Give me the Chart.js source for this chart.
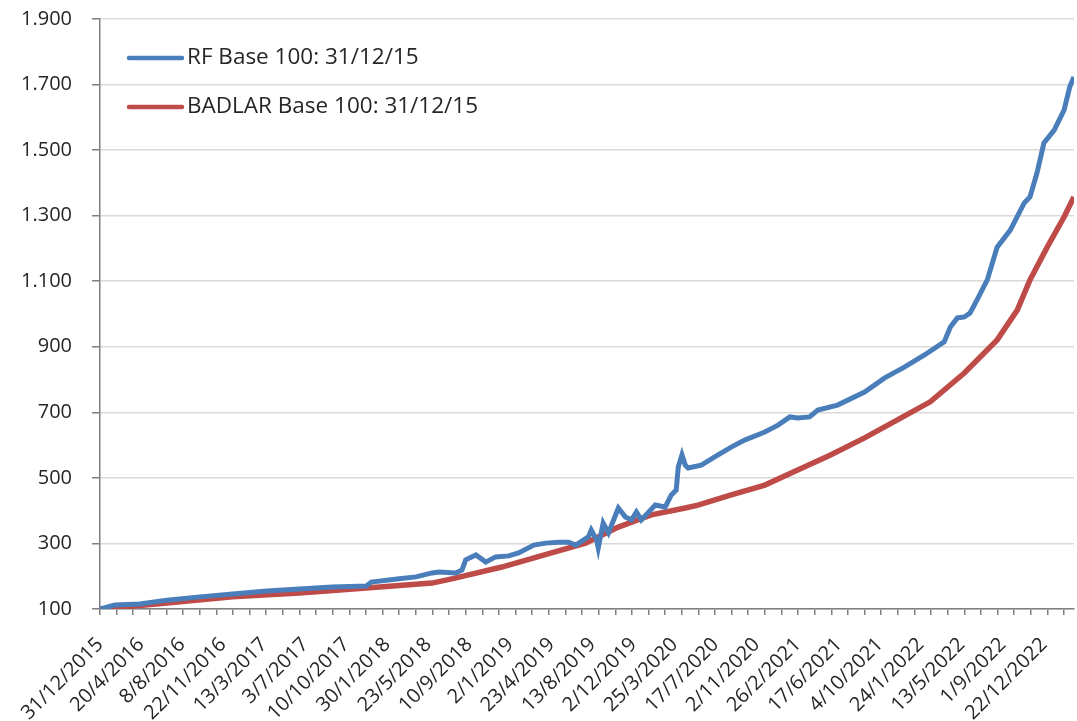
<!DOCTYPE html>
<html>
<head>
<meta charset="utf-8">
<script src="https://cdn.jsdelivr.net/npm/chart.js@4.4.1/dist/chart.umd.min.js"></script>
<style>
  html, body { margin: 0; padding: 0; background: #fff; }
</style>
</head>
<body>
<canvas id="chart" width="1077" height="721"></canvas>
<script>
// Axis labels (one every ~75 business days, as in the original sheet)
const dateLabels = [
    '31/12/2015', '20/4/2016', '8/8/2016', '22/11/2016', '13/3/2017', '3/7/2017',
    '10/10/2017', '30/1/2018', '23/5/2018', '10/9/2018', '2/1/2019', '23/4/2019',
    '13/8/2019', '2/12/2019', '25/3/2020', '17/7/2020', '2/11/2020', '26/2/2021',
    '17/6/2021', '4/10/2021', '24/1/2022', '13/5/2022', '1/9/2022', '22/12/2022'
];

// RF index, base 100 at 31/12/15 (position measured in label steps)
const rfPos = [
    0.00, 0.36, 0.97, 1.63, 2.43, 3.23, 4.06, 4.86, 5.66, 6.49, 6.61, 7.29, 7.70, 8.09,
    8.26, 8.67, 8.82, 8.91, 9.16, 9.40, 9.64, 9.96, 10.20, 10.57, 10.86, 11.17, 11.42,
    11.59, 11.90, 11.97, 12.10, 12.14, 12.26, 12.39, 12.63, 12.80, 12.95, 13.07, 13.19,
    13.53, 13.77, 13.92, 14.04, 14.09, 14.18, 14.26, 14.33, 14.65, 15.06, 15.38, 15.72,
    16.20, 16.52, 16.81, 17.00, 17.29, 17.49, 17.97, 18.63, 19.12, 19.60, 20.09, 20.57,
    20.72, 20.89, 21.06, 21.20, 21.37, 21.62, 21.86, 22.18, 22.52, 22.66, 22.83, 23.00,
    23.25, 23.49, 23.63, 23.73
];
const rfValues = [
    100, 112, 115, 127, 137, 146, 155, 161, 167, 170, 182, 192, 198, 210,
    213, 210, 219, 250, 265, 243, 259, 262, 271, 295, 301, 304, 304,
    295, 320, 341, 311, 286, 362, 332, 408, 381, 372, 396, 372,
    417, 411, 448, 463, 533, 570, 539, 530, 539, 570, 594, 616,
    640, 661, 686, 683, 686, 707, 722, 762, 805, 838, 875, 915,
    960, 988, 991, 1003, 1043, 1104, 1204, 1256, 1339, 1357, 1430, 1522,
    1561, 1622, 1693, 1723
];

// BADLAR index, base 100 at 31/12/15
const badlarPos = [
    0.00, 1.63, 3.23, 4.86, 6.49, 8.09, 8.57, 9.79, 11.00, 11.83, 12.63, 13.43, 14.26,
    14.57, 15.38, 16.20, 17.00, 17.80, 18.63, 19.43, 20.23, 21.06, 21.86, 22.35, 22.66,
    23.08, 23.49, 23.73
];
const badlarValues = [
    100, 118, 137, 149, 164, 179, 192, 228, 271, 301, 350, 387, 408,
    417, 448, 478, 524, 570, 622, 677, 732, 820, 921, 1012, 1104,
    1204, 1296, 1357
];

const X_MAX = 23.73;        // right edge of the plot, in label steps
const MINOR_STEP = 0.405;   // tick marks are not aligned with the labels

const toPoints = (xs, ys) => xs.map((x, i) => ({ x: x, y: ys[i] }));
const thousands = v => String(v).replace(/\B(?=(\d{3})+(?!\d))/g, '.');

Chart.defaults.font.family = "'Open Sans', sans-serif";
Chart.defaults.color = '#262626';

// Legend sitting inside the plot, top left
const insideLegend = {
    id: 'insideLegend',
    afterDraw(chart) {
        const { ctx, chartArea } = chart;
        ctx.save();
        ctx.font = "22.5px 'Open Sans', sans-serif";
        ctx.textBaseline = 'middle';
        chart.data.datasets.forEach((ds, i) => {
            const y = chartArea.top + 39 + i * 49;
            const x = chartArea.left + 29;
            ctx.strokeStyle = ds.borderColor;
            ctx.lineWidth = 4.5;
            ctx.lineCap = 'round';
            ctx.beginPath();
            ctx.moveTo(x, y);
            ctx.lineTo(x + 53, y);
            ctx.stroke();
            ctx.fillStyle = '#262626';
            ctx.fillText(ds.label, x + 58, y);
        });
        ctx.restore();
    }
};

const noPad = scale => {
    scale.paddingTop = 0;
    scale.paddingBottom = 0;
};

new Chart(document.getElementById('chart'), {
    type: 'line',
    data: {
        datasets: [
            {
                label: 'RF Base 100: 31/12/15',
                data: toPoints(rfPos, rfValues),
                borderColor: '#4a7ebb',
                borderWidth: 5,
                pointRadius: 0,
                tension: 0
            },
            {
                label: 'BADLAR Base 100: 31/12/15',
                data: toPoints(badlarPos, badlarValues),
                borderColor: '#be4b48',
                borderWidth: 5.5,
                pointRadius: 0,
                tension: 0
            }
        ]
    },
    options: {
        responsive: false,
        animation: false,
        layout: { padding: { top: 19, right: 0, left: 0, bottom: 0 } },
        plugins: { legend: { display: false }, tooltip: { enabled: false } },
        scales: {
            xTicks: {
                type: 'linear',
                position: 'bottom',
                min: 0,
                max: X_MAX,
                afterBuildTicks: scale => {
                    const t = [];
                    for (let v = 0; v <= X_MAX + 1e-6; v += MINOR_STEP) t.push({ value: v });
                    scale.ticks = t;
                },
                afterFit: scale => { scale.height = 0; noPad(scale); },
                ticks: { display: false },
                grid: { drawOnChartArea: false, drawTicks: true, tickLength: 6, tickColor: '#7f7f7f', lineWidth: 1.5 },
                border: { display: true, color: '#7f7f7f', width: 1.5 }
            },
            x: {
                type: 'linear',
                position: 'bottom',
                min: 0,
                max: X_MAX,
                afterBuildTicks: scale => {
                    scale.ticks = dateLabels.map((d, i) => ({ value: i }));
                },
                afterFit: scale => { scale.height = 112; noPad(scale); },
                ticks: {
                    autoSkip: false,
                    maxRotation: 45,
                    minRotation: 45,
                    padding: 16,
                    font: { size: 20 },
                    callback: v => dateLabels[v]
                },
                grid: { display: false },
                border: { display: false }
            },
            y: {
                min: 100,
                max: 1900,
                afterBuildTicks: scale => {
                    const t = [];
                    for (let v = 100; v <= 1900; v += 200) t.push({ value: v });
                    scale.ticks = t;
                },
                afterFit: scale => { scale.width = 100; noPad(scale); },
                ticks: {
                    padding: 20,
                    font: { size: 20 },
                    callback: v => thousands(v)
                },
                grid: { color: '#d9d9d9', lineWidth: 1.5, tickLength: 8, tickColor: '#7f7f7f' },
                border: { color: '#7f7f7f', width: 1.5 }
            }
        }
    },
    plugins: [insideLegend]
});
</script>
</body>
</html>
